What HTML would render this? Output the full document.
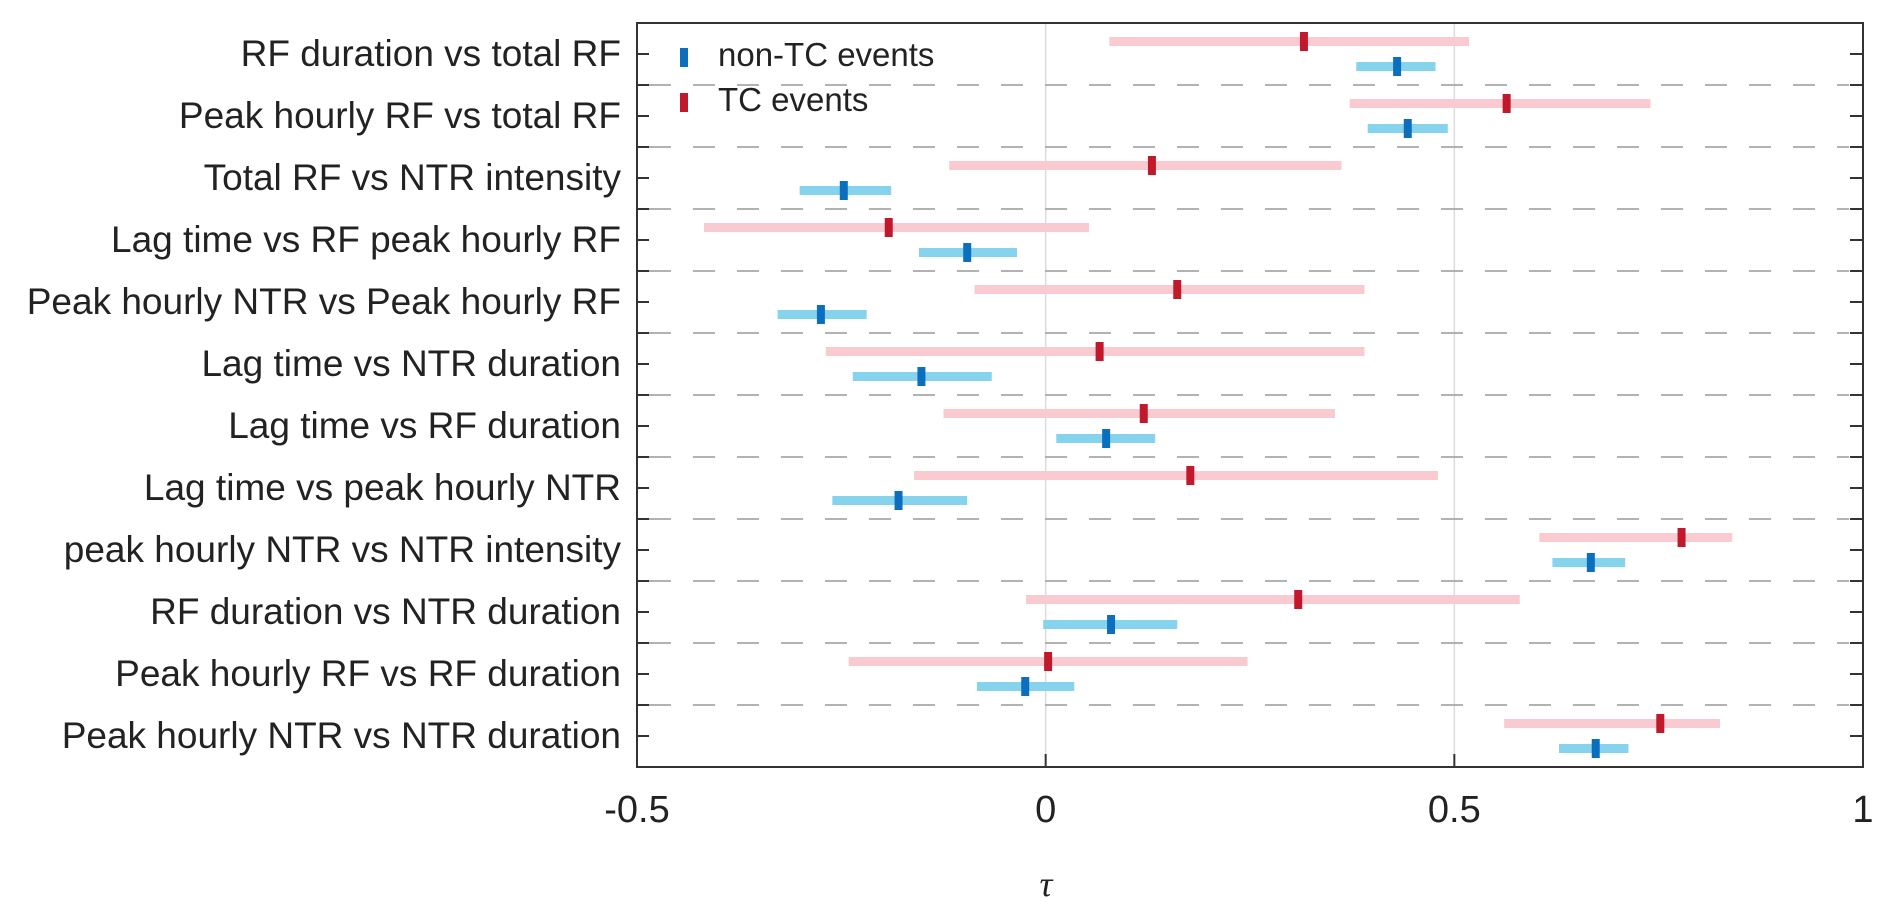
<!DOCTYPE html>
<html><head><meta charset="utf-8"><style>
html,body{margin:0;padding:0;background:#fff;}
svg{display:block;font-family:"Liberation Sans",sans-serif;}
</style></head><body>
<svg id="chart" width="1892" height="905"></svg>
<script>
const categories=["RF duration vs total RF","Peak hourly RF vs total RF","Total RF vs NTR intensity","Lag time vs RF peak hourly RF","Peak hourly NTR vs Peak hourly RF","Lag time vs NTR duration","Lag time vs RF duration","Lag time vs peak hourly NTR","peak hourly NTR vs NTR intensity","RF duration vs NTR duration","Peak hourly RF vs RF duration","Peak hourly NTR vs NTR duration"];
const tcMid=[0.316,0.564,0.13,-0.192,0.161,0.066,0.12,0.177,0.778,0.309,0.003,0.752];
const tcLo=[0.078,0.372,-0.118,-0.418,-0.087,-0.269,-0.125,-0.161,0.604,-0.024,-0.241,0.561];
const tcHi=[0.518,0.74,0.362,0.053,0.39,0.39,0.354,0.48,0.84,0.58,0.247,0.825];
const ntcMid=[0.43,0.443,-0.247,-0.096,-0.275,-0.152,0.074,-0.18,0.667,0.08,-0.025,0.673];
const ntcLo=[0.38,0.394,-0.301,-0.155,-0.328,-0.236,0.013,-0.261,0.62,-0.003,-0.084,0.628];
const ntcHi=[0.477,0.492,-0.189,-0.035,-0.219,-0.066,0.134,-0.096,0.709,0.161,0.035,0.713];
const xTicks=[-0.5,0,0.5,1];
const xTickLabels=["-0.5","0","0.5","1"];

const L=637,R=1863,T=23,B=767;
const xMin=-0.5,xMax=1;
const X=v=>L+(v-xMin)/(xMax-xMin)*(R-L);
const rowH=(B-T)/categories.length;
const Y=i=>T+rowH*(i+0.5);
const svg=document.getElementById('chart');
const NS='http://www.w3.org/2000/svg';
function mk(tag,attrs,parent){const e=document.createElementNS(NS,tag);for(const k in attrs)e.setAttribute(k,attrs[k]);(parent||svg).appendChild(e);return e;}

const grid=mk('g',{});


[0,0.5].forEach(v=>{mk('line',{x1:X(v),x2:X(v),y1:T,y2:B,stroke:'#dcdcdc','stroke-width':1.5},grid);});
const seps=mk('g',{});


for(let i=1;i<categories.length;i++){const y=T+rowH*i;mk('line',{x1:L+12,x2:R-14,y1:y,y2:y,stroke:'#a8a8a8','stroke-width':1.8,'stroke-dasharray':'22 22'},seps);}

const series=mk('g',{});


categories.forEach((c,i)=>{
  const yt=Y(i)-12.5,yn=Y(i)+12.5;
  const tr=mk('rect',{x:X(tcLo[i]),y:yt-4.5,width:X(tcHi[i])-X(tcLo[i]),height:9,fill:'#f9cacf'},series);
  
  
  const tm=mk('rect',{x:X(tcMid[i])-4,y:yt-9.5,width:8,height:19,fill:'#c1182c'},series);
  
  
  const nr=mk('rect',{x:X(ntcLo[i]),y:yn-4.5,width:X(ntcHi[i])-X(ntcLo[i]),height:9,fill:'#85d3ed'},series);
  
  
  const nm=mk('rect',{x:X(ntcMid[i])-4,y:yn-9.5,width:8,height:19,fill:'#0b6fbd'},series);
  
  
  const lab=mk('text',{x:621,y:Y(i)+12,'text-anchor':'end','font-size':37,fill:'#222'});
  lab.textContent=c;
  
  
});

const box=mk('rect',{x:L,y:T,width:R-L,height:B-T,fill:'none',stroke:'#333','stroke-width':2});


for(let k=0;k<=categories.length*2;k++){const y=T+rowH/2*k;
  mk('line',{x1:L,x2:L+12,y1:y,y2:y,stroke:'#333','stroke-width':2});
  mk('line',{x1:R-13,x2:R,y1:y,y2:y,stroke:'#333','stroke-width':2});}
xTicks.forEach((v,i)=>{
  mk('line',{x1:X(v),x2:X(v),y1:B,y2:B-13,stroke:'#333','stroke-width':2});
  const t=mk('text',{x:X(v),y:822,'text-anchor':'middle','font-size':38,fill:'#222'});
  t.textContent=xTickLabels[i];
  
  
});
const xt=mk('text',{x:1046,y:896,'text-anchor':'middle','font-size':36,'font-style':'italic','font-family':'Liberation Serif, serif',fill:'#222'});
xt.textContent='τ';



const lg=mk('g',{});


mk('rect',{x:680,y:48,width:8,height:19,fill:'#0b6fbd'},lg);
const l1=mk('text',{x:718,y:66,'font-size':33,fill:'#222'},lg);l1.textContent='non-TC events';


mk('rect',{x:680,y:93,width:8,height:19,fill:'#c1182c'},lg);
const l2=mk('text',{x:718,y:111,'font-size':33,fill:'#222'},lg);l2.textContent='TC events';


</script>
</body></html>
